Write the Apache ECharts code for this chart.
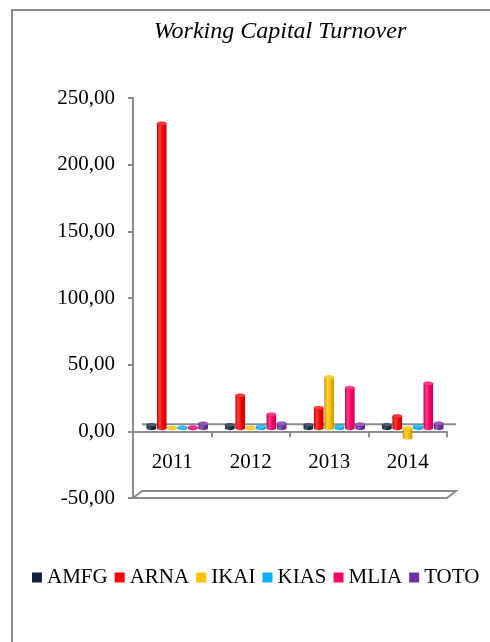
<!DOCTYPE html>
<html>
<head>
<meta charset="utf-8">
<script src="https://cdn.jsdelivr.net/npm/echarts@6/dist/echarts.min.js"></script>
<style>
  html, body { margin: 0; padding: 0; background: #ffffff; }
  #chart { width: 490px; height: 642px; }
</style>
</head>
<body>
<div id="chart"></div>
<script>
// Working capital turnover per company and year
const categories = ['2011', '2012', '2013', '2014'];
const AMFG = [2.3, 2.3, 2.3, 2.3];
const ARNA = [228.5, 24.5, 15.2, 9.0];
const IKAI = [0.3, 0.4, 38.3, -7.0];
const KIAS = [0.6, 1.3, 1.3, 1.5];
const MLIA = [0.7, 10.3, 30.2, 33.5];
const TOTO = [3.5, 3.5, 2.8, 3.5];
const yTicks = [-50, 0, 50, 100, 150, 200, 250];

const seriesNames = ['AMFG', 'ARNA', 'IKAI', 'KIAS', 'MLIA', 'TOTO'];
const seriesValues = [AMFG, ARNA, IKAI, KIAS, MLIA, TOTO];
const colors = ['#10243E', '#FF0000', '#FFC000', '#00B0F0', '#FF0066', '#7030A0'];

const FONT = '"Liberation Serif", "Times New Roman", serif';
const GRAY = '#8c8c8c';

function mix(hex, target, t) {
  const c = parseInt(hex.slice(1), 16);
  const r = (c >> 16) & 255, g = (c >> 8) & 255, b = c & 255;
  const f = v => Math.round(v + (target - v) * t);
  return 'rgb(' + f(r) + ',' + f(g) + ',' + f(b) + ')';
}

// Pseudo-3D column: shaded body with rounded caps, pushed back half the floor depth
function barRenderer(sIdx) {
  const base = colors[sIdx];
  const dark = mix(base, 0, 0.25);
  const light = mix(base, 255, 0.25);
  return function (params, api) {
    const i = api.value(0);
    const v = api.value(1);
    const band = api.size([1, 0])[0];
    const zero = api.coord([i, 0]);
    const end = api.coord([i, v]);
    const step = band * 0.132;
    const w = band * 0.122;
    const cx = zero[0] + band * 0.064 + (sIdx - 2.5) * step;
    const dy = -3;
    const y0 = zero[1] + dy;
    const y1 = end[1] + dy;
    const yTop = Math.min(y0, y1);
    const yBot = Math.max(y0, y1);
    const grad = new echarts.graphic.LinearGradient(0, 0, 1, 0, [
      { offset: 0, color: dark },
      { offset: 0.3, color: light },
      { offset: 0.6, color: base },
      { offset: 1, color: dark }
    ]);
    return {
      type: 'group',
      children: [
        { type: 'ellipse', shape: { cx: cx, cy: yBot, rx: w / 2, ry: 1.8 }, style: { fill: grad } },
        { type: 'rect', shape: { x: cx - w / 2, y: yTop, width: w, height: yBot - yTop }, style: { fill: grad } },
        { type: 'ellipse', shape: { cx: cx, cy: yTop, rx: w / 2, ry: 1.8 }, style: { fill: light, stroke: base, lineWidth: 0.6 } }
      ]
    };
  };
}

// Floor edges of the 3D plot box
function frameRenderer(params, api) {
  const cs = params.coordSys;
  const x0 = cs.x, x1 = cs.x + cs.width;
  const yz = api.coord([0, 0])[1];
  const yb = api.coord([0, yTicks[0]])[1];
  const dx = 9, dy = -7;
  return {
    type: 'group',
    children: [
      { type: 'line', shape: { x1: x0 + dx, y1: yz + dy, x2: x1 + dx, y2: yz + dy },
        style: { stroke: GRAY, lineWidth: 2 } },
      { type: 'polygon',
        shape: { points: [[x0, yb], [x1, yb], [x1 + dx, yb + dy], [x0 + dx, yb + dy]] },
        style: { fill: '#ffffff', stroke: GRAY, lineWidth: 2 } }
    ]
  };
}

const series = [{
  type: 'custom',
  name: 'frame',
  silent: true,
  z: 1,
  data: [[0, 0]],
  encode: { x: 0, y: 1 },
  renderItem: frameRenderer
}];
seriesNames.forEach(function (name, s) {
  series.push({
    type: 'custom',
    name: name,
    z: 3,
    itemStyle: { color: colors[s] },
    data: seriesValues[s].map(function (v, i) { return [i, v]; }),
    encode: { x: 0, y: 1 },
    renderItem: barRenderer(s)
  });
});

const chart = echarts.init(document.getElementById('chart'), null, { renderer: 'canvas' });
chart.setOption({
  animation: false,
  backgroundColor: '#ffffff',
  title: {
    text: 'Working Capital Turnover',
    left: 275,
    textAlign: 'center',
    top: 15,
    textStyle: { fontFamily: FONT, fontStyle: 'italic', fontWeight: 'normal', fontSize: 24, color: '#000' }
  },
  legend: {
    data: seriesNames.map(function (n, s) { return { name: n, itemStyle: { color: colors[s] } }; }),
    left: 27,
    top: 562,
    icon: 'rect',
    itemWidth: 10,
    itemHeight: 10,
    itemGap: 7,
    textStyle: { fontFamily: FONT, fontSize: 21, color: '#000' }
  },
  grid: { left: 133, right: 43, top: 98, bottom: 144, containLabel: false },
  xAxis: {
    type: 'category',
    data: categories,
    axisLine: { onZero: true, lineStyle: { color: GRAY, width: 2 } },
    axisTick: { show: true, length: 6, lineStyle: { color: GRAY, width: 2 } },
    axisLabel: { margin: -46, fontFamily: FONT, fontSize: 21, color: '#000' },
    splitLine: { show: false },
    z: 2
  },
  yAxis: {
    type: 'value',
    min: yTicks[0],
    max: yTicks[yTicks.length - 1],
    interval: yTicks[1] - yTicks[0],
    axisLine: { show: true, lineStyle: { color: GRAY, width: 2 } },
    axisTick: { show: true, length: 5, lineStyle: { color: GRAY, width: 2 } },
    axisLabel: {
      margin: 18,
      fontFamily: FONT,
      fontSize: 21,
      color: '#000',
      formatter: function (v) { return v.toFixed(2).replace('.', ','); }
    },
    splitLine: { show: false }
  },
  graphic: [{
    type: 'polyline',
    shape: { points: [[12, 642], [12, 10], [490, 10]] },
    style: { stroke: GRAY, lineWidth: 2, fill: null },
    silent: true
  }],
  series: series
});
</script>
</body>
</html>
